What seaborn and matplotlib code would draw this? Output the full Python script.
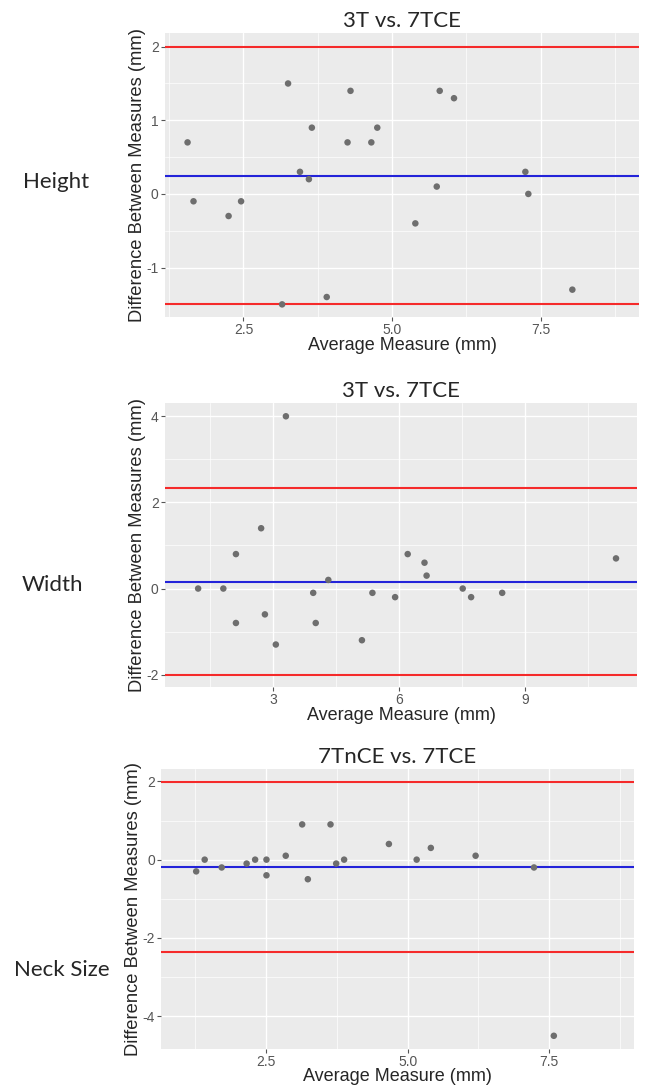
import numpy as np
import pandas as pd
import matplotlib
matplotlib.use("Agg")
import matplotlib.pyplot as plt
import seaborn as sns
from matplotlib.ticker import MultipleLocator

# Data (Bland-Altman style plots)
height_avg = [1.56, 1.66, 2.25, 2.46, 3.15, 3.25, 3.45, 3.60, 3.65, 3.90, 4.25,
              4.30, 4.65, 4.75, 5.39, 5.75, 5.80, 6.04, 7.24, 7.29, 8.03]
height_diff = [0.7, -0.1, -0.3, -0.1, -1.5, 1.5, 0.3, 0.2, 0.9, -1.4, 0.7,
               1.4, 0.7, 0.9, -0.4, 0.1, 1.4, 1.3, 0.3, 0.0, -1.3]
height_lines = [0.25, 2.0, -1.5]  # mean, upper, lower

width_avg = [1.21, 1.81, 2.11, 2.11, 2.71, 2.80, 3.06, 3.30, 3.95, 4.01, 4.31,
             5.11, 5.36, 5.90, 6.20, 6.60, 6.65, 7.51, 7.71, 8.45, 11.16]
width_diff = [0.0, 0.0, 0.8, -0.8, 1.4, -0.6, -1.3, 4.0, -0.1, -0.8, 0.2,
              -1.2, -0.1, -0.2, 0.8, 0.6, 0.3, 0.0, -0.2, -0.1, 0.7]
width_lines = [0.16, 2.34, -2.0]

neck_avg = [1.27, 1.42, 1.72, 2.16, 2.31, 2.51, 2.51, 2.85, 3.14, 3.24, 3.64,
            3.74, 3.88, 4.67, 5.16, 5.41, 6.20, 7.23, 7.58]
neck_diff = [-0.3, 0.0, -0.2, -0.1, 0.0, 0.0, -0.4, 0.1, 0.9, -0.5, 0.9,
             -0.1, 0.0, 0.4, 0.0, 0.3, 0.1, -0.2, -4.5]
neck_lines = [-0.18, 1.99, -2.36]

titles = ["3T vs. 7TCE", "3T vs. 7TCE", "7TnCE vs. 7TCE"]
row_labels = ["Height", "Width", "Neck Size"]

sns.set_style("darkgrid", {"axes.facecolor": "#EBEBEB", "grid.color": "white"})
plt.rcParams['font.family'] = ['Liberation Sans', 'DejaVu Sans']
plt.rcParams['axes.unicode_minus'] = False

fig = plt.figure(figsize=(6.52, 10.89), dpi=100)

panels = [
    (height_avg, height_diff, height_lines, [0.253, 0.709, 0.727, 0.261],
     (1.18, 9.15), (-1.67, 2.19), 2.5, 1, (56, 182)),
    (width_avg, width_diff, width_lines, [0.253, 0.369, 0.724, 0.261],
     (0.42, 11.66), (-2.29, 4.31), 3, 2, (52, 585)),
    (neck_avg, neck_diff, neck_lines, [0.247, 0.037, 0.725, 0.257],
     (0.65, 8.99), (-4.83, 2.32), 2.5, 2, (62, 970)),
]

for i, (xa, yd, lines, rect, xl, yl, xstep, ystep, lpos) in enumerate(panels):
    ax = fig.add_axes(rect)
    df = pd.DataFrame({"avg": xa, "diff": yd})
    sns.scatterplot(data=df, x="avg", y="diff", ax=ax, color="#6e6e6e",
                    s=22, edgecolor="none", zorder=3)
    ax.axhline(lines[0], color="#2323d9", lw=1.5, zorder=2)
    ax.axhline(lines[1], color="#f52a2a", lw=1.5, zorder=2)
    ax.axhline(lines[2], color="#f52a2a", lw=1.5, zorder=2)
    ax.set_xlim(*xl)
    ax.set_ylim(*yl)
    ax.xaxis.set_major_locator(MultipleLocator(xstep))
    ax.xaxis.set_minor_locator(MultipleLocator(xstep / 2))
    ax.yaxis.set_major_locator(MultipleLocator(ystep))
    ax.yaxis.set_minor_locator(MultipleLocator(ystep / 2))
    if xstep == 2.5:
        ax.xaxis.set_major_formatter(matplotlib.ticker.FormatStrFormatter("%.1f"))
    ax.grid(which="major", color="white", lw=1.0)
    ax.grid(which="minor", color="white", lw=0.5)
    ax.tick_params(which="major", length=3, color="#555555", labelsize=10,
                   labelcolor="#555555", pad=1.5, left=True, bottom=True)
    ax.tick_params(which="minor", length=0)
    for sp in ax.spines.values():
        sp.set_visible(False)
    ax.set_xlabel("Average Measure (mm)", fontsize=13, labelpad=-1 if i == 2 else 0)
    ax.set_ylabel("Difference Between Measures (mm)", fontsize=13.2, labelpad=0)
    ax.set_title(titles[i], fontsize=16, family="Lato", pad=4)
    fig.text(lpos[0] / 652, 1 - lpos[1] / 1089, row_labels[i],
             fontsize=16, family="Lato", ha="center", va="center")

fig.savefig("out.png", dpi=100)
